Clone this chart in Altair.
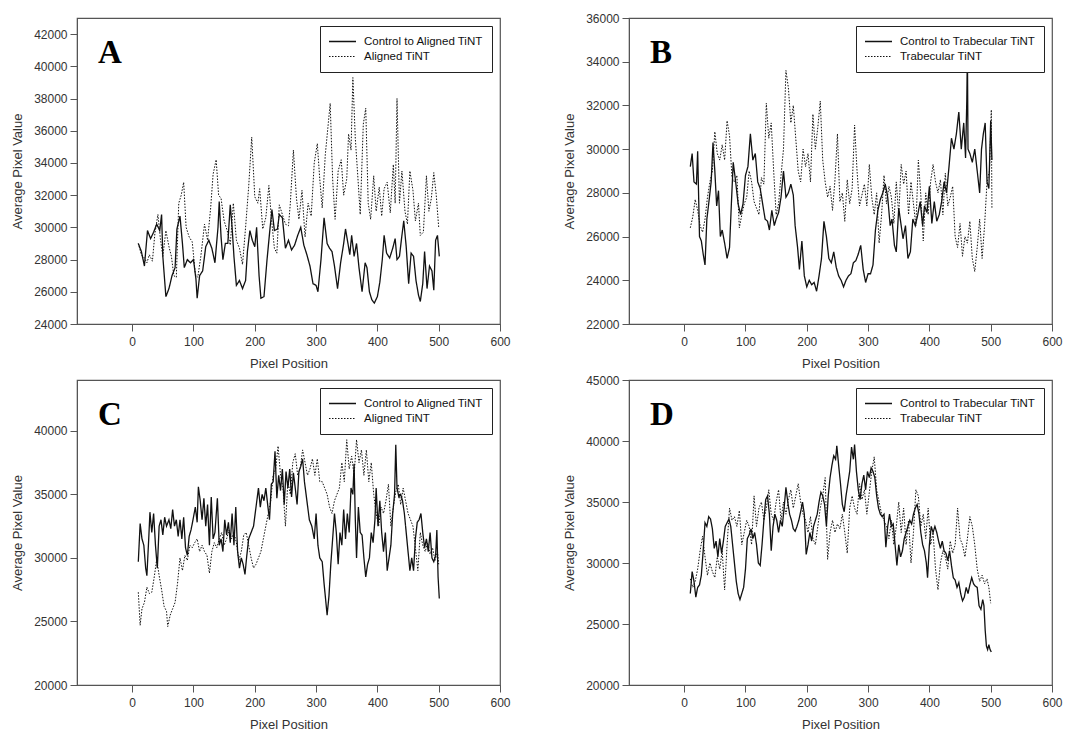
import altair as alt
import pandas as pd

# ---------------- Panel A ----------------
a_ctrl_x = [10,15,20,25,30,35,40,45,48,50, 55,60,65,70,73,78,82,85,90,95,
            100,104,106,110,115,120,125,130,135,140, 142,145,148,152,156,160,163,166,170,175,
            180,185,188,192,196,200,203,207,210,215, 220,225,228,232,237,240,245,250,255,260,
            265,270,275,280,285,290,295,300,303,308, 313,318,322,326,330,335,340,345,348,352,
            355,358,362,366,370,375,380,383,387,391, 395,400,404,408,411,415,420,425,429,432,
            436,440,443,447,451,455,459,463,467,470, 474,477,481,485,489,492,495,498,501]
a_ctrl_y = [29000,28500,27600,29800,29300,29700,30200,29800,30800,28200, 25700,26200,27000,27500,29900,30700,29000,27500,28000,27800,
            28000,26800,25600,27000,27300,28800,29200,28700,27800,30000, 31600,29400,28000,29000,29000,31400,30000,28200,26400,26700,
            26200,26700,28500,29800,29200,28800,30000,27000,25600,25700, 28000,30000,31100,29800,29900,30800,30600,28700,29200,28600,
            28900,29500,30000,28900,28300,27600,26500,26400,26000,28000, 30600,29000,28700,28500,27600,26200,27800,29000,29900,29000,
            28300,29500,28200,29000,27500,26000,27800,27500,26000,25500, 25300,25700,26600,28000,29500,28400,28100,28700,29300,28000,
            28200,29500,30400,28800,26500,28400,28200,26700,25800,25400, 26500,28500,26200,27600,27300,26100,29200,29500,28200]
a_tint_x = [10,15,20,24,28,33,37,42,46,50, 55,60,64,68,72,76,80,84,88,93,
            98,103,107,112,118,123,128,132,137,141, 145,150,155,160,165,170,175,180,185,190,
            195,200,205,208,213,218,223,227,232,236, 240,245,250,255,258,263,268,272,277,282,
            287,292,297,302,306,310,315,320,323,327, 331,336,341,345,350,353,357,360,364,368,
            372,377,381,385,389,394,398,403,407,411, 416,421,426,429,432,436,440,445,449,453,
            458,462,467,470,475,480,484,488,492,496, 500]
a_tint_y = [29000,28300,28100,27800,28300,27900,29600,30800,29300,28200, 29800,28800,28200,27000,26900,31500,32000,32800,30000,29400,
            29100,27100,26900,28200,30200,29200,31200,33300,34200,32000, 31800,30400,29800,28900,31500,29200,28700,27700,30000,32500,
            35600,31900,31500,32400,29900,30600,32600,30600,28700,28400, 31400,30800,30200,30100,31500,34800,31800,30500,32300,29400,
            31500,30700,34000,35200,33000,31200,34500,36500,37700,33000, 30500,33500,34200,32000,33000,35800,34800,39300,35500,33200,
            30800,36400,37400,31500,30500,33200,31000,32500,30700,32400, 32800,30900,33900,31500,38000,31500,33500,31000,30200,33500,
            32300,30400,31500,29500,29700,33200,31000,31800,33400,32000, 30000]

# ---------------- Panel B ----------------
b_ctrl_x = [10,13,16,20,22,25,28,31,34,37, 40,44,47,50,53,56,59,62,66,70,
            74,77,80,84,88,92,96,100,104,108, 112,116,120,124,128,132,136,139,143,147,
            150,154,158,162,166,170,174,178,181,185, 188,192,196,200,204,208,212,216,220,224,
            228,232,236,240,244,248,252,256,260,264, 268,272,276,280,284,288,292,296,300,304,
            308,312,316,320,324,328,332,336,339,343, 346,350,354,357,361,365,369,373,377,381,
            385,389,392,396,400,404,408,412,416,420, 424,428,432,436,440,444,448,452,456,459,
            461,462,463,466,470,474,478,482,485,488, 491,494,497,500,502]
b_ctrl_y = [29200,29800,28500,28400,29900,26000,25800,25200,24700,26800, 27500,28500,30300,29000,27400,28100,26000,26300,25700,25000,
            25500,27500,29400,28500,27500,27000,27500,28800,29200,30700, 29500,29800,28500,28200,27500,26800,26700,26300,27200,26500,
            26800,27100,27800,29000,27800,28000,28400,27900,26500,25500, 24500,25800,24200,23700,24000,23800,23900,23500,24200,25000,
            26700,26000,25000,24800,25300,24600,24200,24000,23700,24000, 24200,24300,24800,24900,25200,25600,24500,23900,24300,24300,
            24700,26300,27200,27700,28000,28400,27800,26500,26800,25600, 25300,27300,26500,25900,26500,25000,25300,26800,26500,27000,
            27600,26500,27400,27100,28300,26600,27600,26700,27000,27600, 28500,28000,29200,30500,30000,30700,31700,30000,31200,29600,
            32200,34500,30000,29800,29400,30000,29000,28000,30000,30700, 31200,28500,28200,31300,29500]
b_tint_x = [10,14,18,22,26,30,34,38,42,46, 50,54,58,62,66,70,74,78,82,86,
            90,94,98,102,106,110,114,118,122,126, 130,134,138,142,146,150,154,158,162,166,
            170,174,178,182,186,190,194,198,202,206, 210,214,218,222,226,230,234,238,242,246,
            250,254,258,262,266,270,274,278,282,286, 290,294,298,302,306,310,314,318,322,326,
            330,334,338,342,346,350,354,358,362,366, 370,374,378,382,386,390,394,398,402,406,
            410,414,418,422,426,430,434,438,442,446, 450,454,458,462,466,470,474,478,482,486,
            490,494,498,501,502]
b_tint_y = [26400,26900,27700,27200,26500,26200,26800,27800,28500,29000, 30800,29800,29500,30200,29500,31300,30600,28700,28500,28800,
            26400,27000,27500,27800,29000,28500,27600,27300,27000,28700, 28400,32100,30500,31200,29000,27000,27500,28800,30000,33600,
            32800,31200,32000,30500,29000,28500,30000,29200,29800,28500, 31600,30000,31000,32200,29500,28500,27800,28300,27200,28600,
            30700,27600,28000,26700,28600,27500,28200,31100,29000,27400, 27900,28400,27400,29300,27800,27000,28000,25700,27000,28800,
            27500,28300,27800,26600,28500,27000,29300,28400,29000,27000, 28500,27500,26500,29500,27900,25800,28000,27000,28500,29300,
            28500,28000,28600,27000,28900,27400,27800,28300,26000,25500, 26600,25100,26000,25700,26700,25000,24400,25500,26800,25000,
            26500,28500,29000,31800,27300]

# ---------------- Panel C ----------------
c_ctrl_x = [10,13,16,19,22,24,27,29,32,35, 38,41,44,47,50,53,56,60,63,66,
            69,72,75,78,81,84,87,90,93,96, 100,103,106,108,111,114,117,120,123,126,
            129,132,135,139,142,145,148,151,154,157, 160,163,166,169,172,175,178,181,184,187,
            190,194,198,202,206,209,212,215,218,221, 224,227,230,233,236,239,242,245,248,251,
            254,257,260,263,266,269,272,275,278,281, 285,289,293,297,300,303,306,310,313,316,
            318,321,324,327,330,333,336,339,342,345, 348,351,354,357,360,362,364,366,369,372,
            375,378,381,384,387,390,393,396,398,401, 404,407,410,413,416,419,422,425,428,430,
            432,435,438,441,444,447,450,453,456,459, 462,465,468,471,474,477,480,483,486,489,
            492,495,497,499,501]
c_ctrl_y = [29700,32700,31500,31000,29200,28600,31500,33600,32000,33500, 31000,29200,32500,33000,31800,33200,32500,33000,32300,33800,
            32500,33000,31700,33000,31500,33200,30800,30200,31700,32200, 33200,34000,32800,35600,34500,33000,34700,32500,34200,31000,
            34800,31500,32000,34700,31000,31500,30500,33000,31800,32800, 31200,33500,31000,34000,30500,29200,30000,29500,28700,30200,
            31500,32000,32500,34000,35500,34000,35000,34500,35500,34200, 33000,35800,36000,38400,34700,36500,35300,37000,34200,36800,
            35500,37000,34800,36700,35500,34200,36800,37200,37800,36000, 34500,33000,32500,31500,33500,31000,30000,29700,28000,26500,
            25500,27000,29500,31500,33500,32000,29500,32000,31000,33800, 31500,33500,32000,35500,35000,37400,33000,30000,34000,32000,
            31800,30000,28500,29500,30000,32000,31200,33000,35500,32500, 34500,32000,30500,32000,29000,30000,31000,33500,35000,38900,
            35500,34800,35000,34500,33500,32000,30500,29000,30000,29000, 31500,32800,33000,33500,32000,30800,31500,30500,32000,30000,
            29700,30200,32200,28500,26800]
c_tint_x = [10,13,16,20,24,28,32,36,40,44, 48,52,56,58,62,66,70,74,78,82,
            86,90,94,98,102,106,110,114,118,122, 126,130,134,138,142,146,150,154,158,162,
            166,170,174,178,182,186,190,194,198,202, 206,210,214,218,222,226,230,234,238,242,
            246,250,254,258,262,266,270,274,278,282, 286,290,294,298,302,306,310,314,318,322,
            326,330,334,338,342,346,350,354,358,362, 366,370,374,378,382,386,390,394,398,402,
            406,410,414,418,422,426,430,434,438,442, 446,450,454,458,462,466,470,474,478,482,
            486,490,494,498,500]
c_tint_y = [27300,24700,26000,26500,27700,27200,27300,28500,29900,28600, 27500,26200,25800,24600,25500,26000,26500,28000,30000,29000,
            30200,29800,31000,30800,31200,31500,30500,31000,30500,30200, 28800,30500,31200,30800,31500,32000,31000,31500,32200,31500,
            32000,31200,29800,30500,31800,32000,31000,30000,29200,29500, 30000,30500,31500,32500,33500,34500,36500,37000,38800,36500,
            35500,32500,36000,35000,37500,38200,36500,37000,38500,37500, 36500,37000,37800,36500,37800,36000,36000,35500,35000,34000,
            33500,34500,35000,35500,37500,36000,39300,37000,38000,36500, 39300,37500,38500,36500,38500,36000,37500,35000,33500,32500,
            34000,33500,34500,35800,32500,34000,35200,35800,34200,35500, 34500,33500,33000,32500,30800,29000,32000,31000,30500,31200,
            30300,30800,29800,30500,29500]

# ---------------- Panel D ----------------
d_ctrl_x = [10,13,16,19,22,25,28,31,34,37, 40,43,46,49,52,55,58,61,64,67,
            70,73,76,79,82,85,88,91,94,97, 100,103,106,109,112,115,118,121,124,127,
            130,133,136,139,142,145,148,151,154,157, 160,163,166,169,172,175,178,181,184,187,
            190,193,196,199,202,205,208,211,214,217, 220,223,226,229,232,235,238,241,244,247,
            249,252,255,258,261,264,267,270,273,276, 278,281,284,287,290,293,296,299,302,305,
            308,311,314,317,320,323,326,329,332,335, 338,341,344,347,350,353,356,359,362,365,
            368,371,374,377,380,383,386,389,392,395, 397,400,403,406,409,412,415,418,421,424,
            427,430,433,436,439,442,445,448,451,454, 457,460,463,466,469,472,475,478,481,484,
            487,489,491,493,495,497,499,501]
d_ctrl_y = [27500,29300,28500,27200,28000,28200,29000,31000,33300,33000, 33800,33600,32800,31200,31800,30500,32000,30800,31800,33000,
            33300,33600,33000,31500,30000,28500,27500,27000,27500,28000, 29500,32000,32300,32800,32000,32500,31500,30000,29800,31500,
            33500,35200,35500,34000,31000,33000,34000,33500,32500,33500, 33000,34500,36200,35000,34000,33500,32800,32600,33000,33500,
            34200,35000,34000,30700,31500,32500,31800,33000,33500,34000, 35000,35800,35500,34800,33000,35500,37000,38000,38800,38500,
            39600,38000,36500,34800,34200,35500,36500,37500,39500,38500, 39700,37500,36000,35200,36500,37200,36000,37500,37000,37800,
            37500,37000,35500,34500,34000,33800,34000,31300,33000,34000, 33000,33200,31500,29800,31500,30500,31000,32000,32500,33000,
            33500,33200,34000,34500,34800,34000,32500,31500,31000,30000, 28800,31500,33000,32500,33000,32500,31800,31200,31800,31000,
            30800,30200,31000,29800,28800,28600,28000,28400,27500,26900, 27200,28000,27500,28200,28800,28300,28100,28000,26500,26200,
            27000,26500,24500,23200,22900,23300,22900,22700]
d_tint_x = [10,14,18,22,26,30,34,38,42,46, 50,54,58,62,66,70,74,78,82,86,
            90,94,98,102,106,110,114,118,122,126, 130,134,138,142,146,150,154,158,162,166,
            170,174,178,182,186,190,194,198,202,206, 210,214,218,222,226,230,234,238,242,246,
            250,254,258,262,266,270,274,278,282,286, 290,294,298,302,306,310,314,318,322,326,
            330,334,338,342,346,350,354,358,362,366, 370,374,378,382,386,390,394,398,402,406,
            410,414,418,422,426,430,434,438,442,446, 450,454,458,462,466,470,474,478,482,486,
            490,494,497,500]
d_tint_y = [28700,28000,28500,29500,31000,32200,30500,29000,30000,29300, 28800,30500,29500,31000,27800,31500,34500,33500,33800,33000,
            34300,31500,32500,33500,33000,31500,35500,33000,34500,35000, 33500,34500,36000,34000,33500,35000,36000,33500,35000,34000,
            35200,36000,34500,35500,36500,35000,34000,33500,32500,33800, 32000,31500,33000,34500,35500,37000,30300,32500,33500,32500,
            33200,32800,34000,32500,30800,34500,35500,34500,34000,36500, 35200,36000,34000,35800,37500,38700,36000,35000,34000,33500,
            33000,32000,33500,31500,33000,35000,32500,34500,31500,33500, 30000,32500,36000,35500,33000,34000,32000,34500,31500,32500,
            29500,27800,30000,31000,30500,29500,31800,30800,31500,34500, 32000,31500,30500,32000,33800,33000,31500,29500,28500,29000,
            28300,28700,28000,26700]

x_ticks = [0, 100, 200, 300, 400, 500, 600]


def panel(cx, cy, tx, ty, names, ydom, yticks, letter, w, h):
    n1 = min(len(cx), len(cy))
    n2 = min(len(tx), len(ty))
    df = pd.DataFrame({
        "pos": cx[:n1] + tx[:n2],
        "val": cy[:n1] + ty[:n2],
        "series": [names[0]] * n1 + [names[1]] * n2,
    })
    lines = alt.Chart(df).mark_line(color="#111").encode(
        x=alt.X("pos:Q",
                scale=alt.Scale(domain=[-90, 600], nice=False, zero=False),
                axis=alt.Axis(values=x_ticks, title="Pixel Position", labelFlush=False)),
        y=alt.Y("val:Q",
                scale=alt.Scale(domain=ydom, nice=False, zero=False),
                axis=alt.Axis(values=yticks, format="d", title="Average Pixel Value",
                              labelFlush=False)),
        strokeDash=alt.StrokeDash("series:N",
                                  scale=alt.Scale(domain=names, range=[[1, 0], [1.5, 1.5]]),
                                  legend=alt.Legend(title=None, orient="top-right", offset=8)),
        strokeWidth=alt.StrokeWidth("series:N",
                                    scale=alt.Scale(domain=names, range=[1.3, 1.0]),
                                    legend=None),
    )
    lab = alt.Chart(pd.DataFrame({"t": [letter]})).mark_text(
        font="Liberation Serif", fontWeight="bold", fontSize=33,
        align="left", baseline="alphabetic", color="black",
    ).encode(x=alt.value(21), y=alt.value(45), text="t:N")
    return alt.layer(lines, lab).properties(width=w, height=h)


A = panel(a_ctrl_x, a_ctrl_y, a_tint_x, a_tint_y,
          ["Control to Aligned TiNT", "Aligned TiNT"],
          [24000, 43000], list(range(24000, 42001, 2000)), "A", 423, 306)
B = panel(b_ctrl_x, b_ctrl_y, b_tint_x, b_tint_y,
          ["Control to Trabecular TiNT", "Trabecular TiNT"],
          [22000, 36000], list(range(22000, 36001, 2000)), "B", 423, 306)
C = panel(c_ctrl_x, c_ctrl_y, c_tint_x, c_tint_y,
          ["Control to Aligned TiNT", "Aligned TiNT"],
          [20000, 44000], list(range(20000, 40001, 5000)), "C", 423, 305)
D = panel(d_ctrl_x, d_ctrl_y, d_tint_x, d_tint_y,
          ["Control to Trabecular TiNT", "Trabecular TiNT"],
          [20000, 45000], list(range(20000, 45001, 5000)), "D", 423, 305)


def row(p, q):
    return alt.hconcat(p, q, spacing=52).resolve_scale(
        strokeDash="independent", strokeWidth="independent"
    ).resolve_legend(strokeDash="independent", strokeWidth="independent")


chart = alt.vconcat(row(A, B), row(C, D), spacing=2).resolve_scale(
    strokeDash="independent", strokeWidth="independent"
).resolve_legend(strokeDash="independent", strokeWidth="independent").properties(
    padding={"left": 11, "top": 11, "right": 5, "bottom": 5},
    background="white",
).configure_axis(
    labelFont="Liberation Sans", labelFontSize=12, labelColor="#333",
    titleFont="Liberation Sans", titleFontSize=13, titleFontWeight="normal",
    titleColor="#333", tickColor="#555", domainColor="#555", tickSize=7,
    grid=False, labelPadding=3,
).configure_axisX(labelPadding=5, titlePadding=10).configure_axisY(
    titlePadding=9
).configure_view(stroke="#555", strokeWidth=1.2).configure_legend(
    labelFont="Liberation Sans", labelFontSize=11.5, labelColor="#111",
    strokeColor="#222", fillColor="white", padding=8, rowPadding=0,
    symbolType="stroke", symbolSize=729, symbolStrokeWidth=1.2,
    symbolStrokeColor="#111", labelOffset=7, clipHeight=15,
)

chart.save("out.html", embed_options={"renderer": "svg", "actions": False})
